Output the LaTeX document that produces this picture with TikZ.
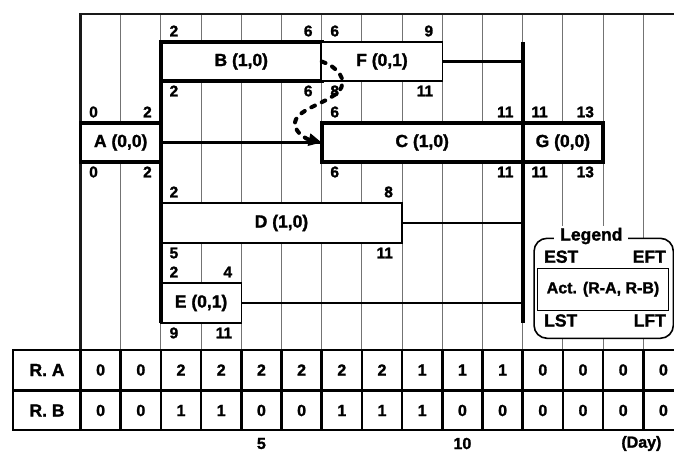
\documentclass[tikz,border=0pt]{standalone}
\usepackage{fontspec}
\setmainfont{Liberation Sans}[BoldFeatures={FakeBold=1.5}]
\usetikzlibrary{arrows.meta,calc}
\newcommand\mylbl{\fontsize{17.5}{20}\selectfont\bfseries}
\newcommand\mynum{\fontsize{15.5}{18}\selectfont\bfseries}
\newcommand\mycell{\fontsize{16}{19}\selectfont\bfseries}
\newcommand\myact{\fontsize{16}{19}\selectfont\bfseries}
\tikzset{
  gridln/.style={black!55, line width=1pt},
  frameln/.style={black!90, line width=2.3pt},
  crit/.style={draw, line width=3.6pt, fill=white, inner sep=0pt, outer sep=0pt, font=\mylbl},
  noncrit/.style={draw, line width=1.3pt, fill=white, inner sep=0pt, outer sep=0pt, font=\mylbl},
  num/.style={inner sep=0pt, font=\mynum},
  conn/.style={line width=2.6pt},
  vconn/.style={line width=3.6pt},
  tline/.style={line width=2.6pt},
  cell/.style={inner sep=0pt, font=\mycell},
  dasharr/.style={line width=4pt, dash pattern=on 4pt off 7.5pt, line cap=round,
    -{Triangle[length=13pt,width=12pt]}},
}
\newcommand\actnums[5]{%
  \node[num,anchor=west] (#1-es) at ([shift={(8.5,-11)}]#1.north west) {#2};
  \node[num,anchor=east] (#1-ef) at ([shift={(-9,-11)}]#1.north east) {#3};
  \node[num,anchor=west] (#1-ls) at ([shift={(8.5,10)}]#1.south west) {#4};
  \node[num,anchor=east] (#1-lf) at ([shift={(-9,10)}]#1.south east) {#5};
}
\begin{document}
\begin{tikzpicture}[x=1pt,y=-1pt]
\useasboundingbox (0,0) rectangle (674,453);
\clip (0,0) rectangle (674,453);
% grid
\foreach \k in {1,...,14} {
  \draw[gridln] ({80.5+40.2*\k},14) -- ({80.5+40.2*\k},350);
}
\draw[frameln] (80.5,14) -- (690,14);
\draw[frameln] (80.5,13) -- (80.5,430);
% activities
\node[crit, minimum width=80.4pt, minimum height=39pt] (A) at (120.7,142.5) {A (0,0)};
\node[crit, minimum width=160.8pt, minimum height=39pt] (B) at (241.3,61.5) {B (1,0)};
\node[noncrit, minimum width=120.6pt, minimum height=39pt] (F) at (382,61.5) {F (0,1)};
\node[crit, minimum width=201pt, minimum height=39pt] (C) at (422.2,142.5) {C (1,0)};
\node[crit, minimum width=80.4pt, minimum height=39pt] (G) at (562.9,142.5) {G (0,0)};
\node[noncrit, minimum width=241.2pt, minimum height=40pt] (D) at (281.5,223) {D (1,0)};
\node[noncrit, minimum width=80.4pt, minimum height=40pt] (E) at (201.1,303) {E (0,1)};
% connectors
\draw[conn] (A.east) -- (C.west);
\draw[conn] (F.east) -- (F.east -| C.east);
\draw[conn] (D.east) -- (D.east -| C.east);
\draw[conn] (E.east) -- (E.east -| C.east);
\draw[vconn] (B.north west) -- (B.north west |- E.south);
\draw[vconn] (C.east |- F.north) -- (C.east |- E.south);
% dashed arrow
\draw[dasharr] (B.east) .. controls (336,66) and (350,80) .. (338,92)
  .. controls (326,104) and (293,110) .. (295,125)
  .. controls (296,133) and (306,139) .. (C.west);
% times
\actnums{A}{0}{2}{0}{2}
\actnums{B}{2}{6}{2}{6}
\actnums{F}{6}{9}{8}{11}
\actnums{C}{6}{11}{6}{11}
\actnums{G}{11}{13}{11}{13}
\actnums{D}{2}{8}{5}{11}
\actnums{E}{2}{4}{9}{11}
% legend
\node[draw, line width=1.6pt, rounded corners=13pt, fill=white, minimum width=139.3pt,
  minimum height=100pt, inner sep=0pt, outer sep=0pt] (leg) at (603.7,288.3) {};
\node[fill=white, inner xsep=6pt, inner ysep=2pt, font=\mylbl, anchor=base] (legt)
  at (591.3,240.5) {Legend};
\node[draw, line width=1.1pt, minimum width=131.4pt, minimum height=41.7pt, inner sep=0pt,
  font=\myact] (legi) at (603,289.2) {Act. (R-A, R-B)};
\node[num, font=\mylbl, anchor=west] (lest) at (544,256.7) {EST};
\node[num, font=\mylbl, anchor=east] (left) at (666,256.7) {EFT};
\node[num, font=\mylbl, anchor=west] (llst) at (544,320.5) {LST};
\node[num, font=\mylbl, anchor=east] (llft) at (666,320.5) {LFT};
% table
\draw[tline] (13,350) -- (690,350);
\draw[tline] (13,390.5) -- (690,390.5);
\draw[tline] (13,430) -- (690,430);
\draw[tline] (13,349) -- (13,431);
\draw[tline] (80.5,349) -- (80.5,431);
\foreach \k in {1,...,14} {
  \draw[tline] ({80.5+40.2*\k},350) -- ({80.5+40.2*\k},430);
}
\node[cell, font=\mylbl] (rA) at (47,370) {R. A};
\node[cell, font=\mylbl] (rB) at (47,410.5) {R. B};
\foreach \v [count=\i] in {0,0,2,2,2,2,2,2,1,1,1,0,0,0,0} {
  \node[cell] (ra\i) at ({80.5+40.2*(\i-0.5)},370) {\v};
}
\foreach \v [count=\i] in {0,0,1,1,0,0,1,1,1,0,0,0,0,0,0} {
  \node[cell] (rb\i) at ({80.5+40.2*(\i-0.5)},410.5) {\v};
}
\node[cell] (d5) at (261.4,443.5) {5};
\node[cell] (d10) at (462.4,443.5) {10};
\node[cell] (dday) at (641.4,443.5) {(Day)};
\end{tikzpicture}
\end{document}
